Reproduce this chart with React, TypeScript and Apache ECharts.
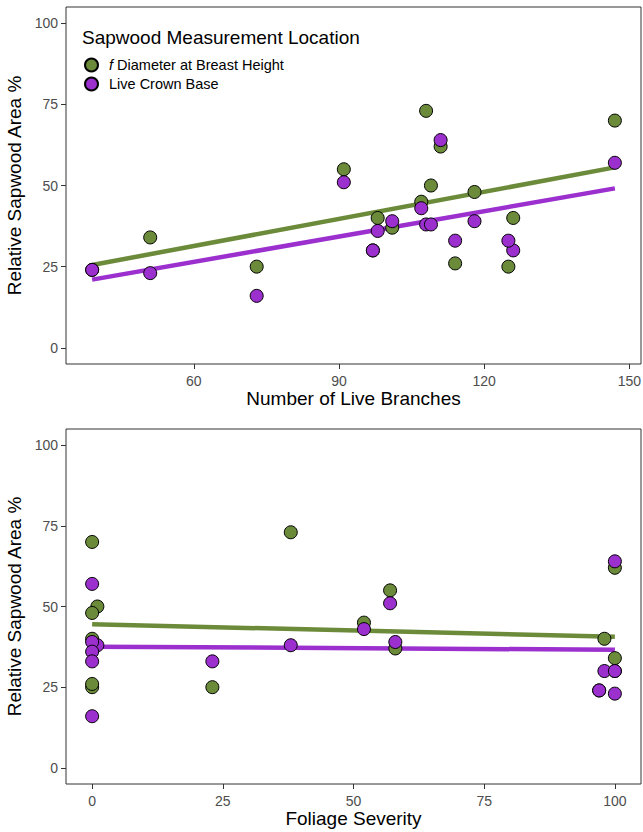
import React, { useEffect, useRef } from "react";
import * as echarts from "echarts";

const branches = [39, 51, 73, 91, 108, 111, 147, 109, 118, 107, 98, 101, 126, 114, 125, 97];
const severity = [97, 100, 0, 57, 38, 100, 0, 1, 0, 52, 0, 58, 98, 0, 23, 100];
const dbhSapwood = [24, 34, 25, 55, 73, 62, 70, 50, 48, 45, 40, 37, 40, 26, 25, 30];
const lcbSapwood = [24, 23, 16, 51, 38, 64, 57, 38, 39, 43, 36, 39, 30, 33, 33, 30];

const yTicks = [0, 25, 50, 75, 100];
const branchTicks = [60, 90, 120, 150];
const severityTicks = [0, 25, 50, 75, 100];

const GREEN = "#6B8B3A";
const PURPLE = "#9B30CF";
const FONT = "Liberation Sans, Arial, sans-serif";

function fitLine(xs: number[], ys: number[]) {
  const n = xs.length;
  const mx = xs.reduce((a, b) => a + b, 0) / n;
  const my = ys.reduce((a, b) => a + b, 0) / n;
  let sxy = 0, sxx = 0;
  for (let i = 0; i < n; i++) {
    sxy += (xs[i] - mx) * (ys[i] - my);
    sxx += (xs[i] - mx) * (xs[i] - mx);
  }
  const b = sxy / sxx;
  const a = my - b * mx;
  const lo = Math.min(...xs), hi = Math.max(...xs);
  return [[lo, a + b * lo], [hi, a + b * hi]];
}

function pts(xs: number[], ys: number[]) {
  return xs.map((x, i) => [x, ys[i]]);
}

export default function App() {
  const ref = useRef<HTMLDivElement>(null);
  useEffect(() => {
    document.body.style.margin = "0";
    const chart = echarts.init(ref.current!, null, { renderer: "svg" });
    const axisCommon = {
      axisLine: { show: false, onZero: false },
      axisTick: { show: true, length: 5, lineStyle: { color: "#333", width: 1 } },
      axisLabel: { color: "#4D4D4D", fontSize: 14, margin: 8, fontFamily: FONT },
      splitLine: { show: false },
      nameTextStyle: { color: "#000", fontSize: 19, fontFamily: FONT },
      nameLocation: "middle",
    };
    const xAxisDef = (idx: number, min: number, max: number, ticks: number[], name: string) => ({
      ...axisCommon,
      type: "value",
      gridIndex: idx,
      position: "bottom",
      min,
      max,
      name,
      nameGap: 25,
      axisTick: { ...axisCommon.axisTick, customValues: ticks },
      axisLabel: { ...axisCommon.axisLabel, margin: 10, customValues: ticks },
    });
    const yAxisDef = (idx: number) => ({
      ...axisCommon,
      type: "value",
      gridIndex: idx,
      position: "left",
      min: -5,
      max: 105,
      name: "Relative Sapwood Area %",
      nameGap: 37,
      axisTick: { ...axisCommon.axisTick, customValues: yTicks },
      axisLabel: { ...axisCommon.axisLabel, customValues: yTicks },
    });
    const scatter = (name: string, idx: number, data: number[][], color: string, z: number) => ({
      type: "scatter",
      name,
      xAxisIndex: idx,
      yAxisIndex: idx,
      data,
      symbol: "circle",
      symbolSize: 13,
      z,
      itemStyle: { color, borderColor: "#000", borderWidth: 1, opacity: 1 },
      emphasis: { disabled: true },
    });
    const line = (idx: number, data: number[][], color: string) => ({
      type: "line",
      xAxisIndex: idx,
      yAxisIndex: idx,
      data,
      showSymbol: false,
      symbol: "none",
      z: 1,
      lineStyle: { color, width: 4.5 },
      emphasis: { disabled: true },
      silent: true,
    });
    const brMin = Math.min(...branches), brMax = Math.max(...branches);
    const brPad = (brMax - brMin) * 0.05;
    const gridCommon = {
      left: 66,
      width: 575,
      show: true,
      borderColor: "#333",
      borderWidth: 1,
      backgroundColor: "#fff",
      containLabel: false,
      outerBoundsMode: "none",
    };
    chart.setOption({
      animation: false,
      textStyle: { fontFamily: FONT },
      grid: [
        { ...gridCommon, top: 7, height: 357 },
        { ...gridCommon, top: 429, height: 355 },
      ],
      xAxis: [
        xAxisDef(0, brMin - brPad, brMax + brPad, branchTicks, "Number of Live Branches"),
        xAxisDef(1, -5, 105, severityTicks, "Foliage Severity"),
      ],
      yAxis: [yAxisDef(0), yAxisDef(1)],
      legend: {
        show: true,
        orient: "vertical",
        left: 84,
        top: 57.5,
        padding: 0,
        itemWidth: 13,
        itemHeight: 13,
        itemGap: 4,
        icon: "circle",
        data: ["DBH", "LCB"],
        selectedMode: false,
        formatter: (n: string) => (n === "DBH" ? "{i|f} Diameter at Breast Height" : "Live Crown Base"),
        textStyle: {
          fontSize: 14.5,
          color: "#000",
          fontFamily: FONT,
          padding: [0, 0, 0, 6],
          rich: { i: { fontStyle: "italic", fontSize: 14.5, fontFamily: FONT, color: "#000" } },
        },
      },
      graphic: [
        {
          type: "text",
          left: 82,
          top: 28,
          style: { text: "Sapwood Measurement Location", fontSize: 19, fontFamily: FONT, fill: "#000" },
        },
      ],
      series: [
        line(0, fitLine(branches, dbhSapwood), GREEN),
        line(0, fitLine(branches, lcbSapwood), PURPLE),
        scatter("DBH", 0, pts(branches, dbhSapwood), GREEN, 2),
        scatter("LCB", 0, pts(branches, lcbSapwood), PURPLE, 3),
        line(1, fitLine(severity, dbhSapwood), GREEN),
        line(1, fitLine(severity, lcbSapwood), PURPLE),
        scatter("DBH", 1, pts(severity, dbhSapwood), GREEN, 2),
        scatter("LCB", 1, pts(severity, lcbSapwood), PURPLE, 3),
      ],
    });
    return () => chart.dispose();
  }, []);
  return <div ref={ref} style={{ position: "absolute", left: 0, top: 0, width: 643, height: 832 }} />;
}
